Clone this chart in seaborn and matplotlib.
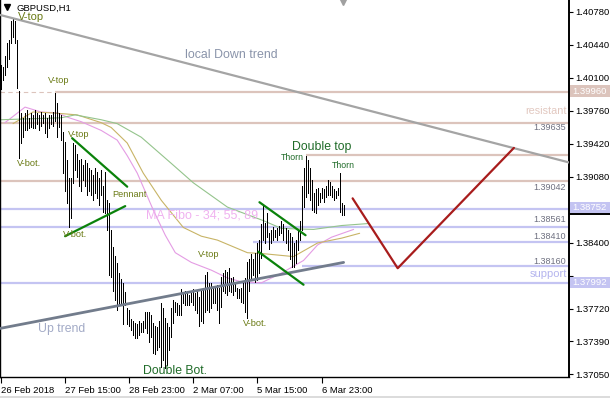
import numpy as np
import pandas as pd
import matplotlib
matplotlib.use("Agg")
import matplotlib.pyplot as plt
from matplotlib.patches import Rectangle
from matplotlib.lines import Line2D
import seaborn as sns

# ---------------- data (GBPUSD H1) ----------------
high = [1.4023, 1.4021, 1.4033, 1.4046, 1.4049, 1.4069, 1.4072, 1.4069, 1.4049, 1.3997,
        1.3974, 1.3969, 1.3974, 1.3977, 1.3969, 1.3974, 1.3972, 1.3977, 1.3974, 1.3972,
        1.3975, 1.3972, 1.3974, 1.3969, 1.3972, 1.3972, 1.3975, 1.3995, 1.3984, 1.3974,
        1.3972, 1.3954, 1.3944, 1.3925, 1.3907, 1.3907, 1.3943, 1.3941, 1.3932, 1.3925,
        1.3927, 1.3920, 1.3925, 1.3922, 1.3917, 1.3915, 1.3910, 1.3917, 1.3913, 1.3907,
        1.3915, 1.3899, 1.3913, 1.3884, 1.3881, 1.3853, 1.3836, 1.3827, 1.3819, 1.3809,
        1.3803, 1.3799, 1.3789, 1.3773, 1.3771, 1.3762, 1.3760, 1.3758, 1.3757, 1.3760,
        1.3758, 1.3760, 1.3769, 1.3769, 1.3769, 1.3766, 1.3758, 1.3755, 1.3753, 1.3760,
        1.3778, 1.3773, 1.3763, 1.3758, 1.3753, 1.3773, 1.3781, 1.3779, 1.3778, 1.3776,
        1.3793, 1.3789, 1.3791, 1.3791, 1.3786, 1.3791, 1.3793, 1.3788, 1.3791, 1.3784,
        1.3791, 1.3794, 1.3807, 1.3810, 1.3799, 1.3799, 1.3794, 1.3794, 1.3797, 1.3794,
        1.3805, 1.3809, 1.3812, 1.3810, 1.3814, 1.3804, 1.3805, 1.3799, 1.3794, 1.3793,
        1.3794, 1.3799, 1.3804, 1.3820, 1.3824, 1.3829, 1.3824, 1.3830, 1.3840, 1.3843,
        1.3860, 1.3879, 1.3861, 1.3871, 1.3850, 1.3853, 1.3856, 1.3853, 1.3855, 1.3858,
        1.3863, 1.3860, 1.3855, 1.3853, 1.3850, 1.3846, 1.3840, 1.3843, 1.3853, 1.3863,
        1.3899, 1.3917, 1.3930, 1.3925, 1.3917, 1.3905, 1.3892, 1.3896, 1.3897, 1.3892,
        1.3897, 1.3896, 1.3899, 1.3905, 1.3903, 1.3899, 1.3896, 1.3894, 1.3897, 1.3912,
        1.3881, 1.3879]
low = [1.3999, 1.4008, 1.4013, 1.4021, 1.4030, 1.4046, 1.4052, 1.4046, 1.4000, 1.3928,
       1.3943, 1.3949, 1.3956, 1.3956, 1.3958, 1.3959, 1.3958, 1.3958, 1.3963, 1.3956,
       1.3961, 1.3964, 1.3953, 1.3949, 1.3958, 1.3963, 1.3961, 1.3966, 1.3949, 1.3959,
       1.3946, 1.3912, 1.3894, 1.3881, 1.3856, 1.3866, 1.3902, 1.3915, 1.3908, 1.3899,
       1.3894, 1.3905, 1.3899, 1.3889, 1.3894, 1.3889, 1.3884, 1.3891, 1.3886, 1.3879,
       1.3889, 1.3872, 1.3871, 1.3853, 1.3807, 1.3805, 1.3791, 1.3781, 1.3771, 1.3776,
       1.3776, 1.3757, 1.3776, 1.3757, 1.3755, 1.3750, 1.3745, 1.3742, 1.3742, 1.3745,
       1.3748, 1.3748, 1.3752, 1.3747, 1.3738, 1.3743, 1.3727, 1.3726, 1.3730, 1.3733,
       1.3712, 1.3719, 1.3711, 1.3714, 1.3730, 1.3743, 1.3758, 1.3769, 1.3766, 1.3766,
       1.3766, 1.3778, 1.3776, 1.3776, 1.3776, 1.3779, 1.3776, 1.3771, 1.3768, 1.3755,
       1.3760, 1.3758, 1.3769, 1.3771, 1.3769, 1.3773, 1.3778, 1.3778, 1.3771, 1.3758,
       1.3774, 1.3791, 1.3788, 1.3786, 1.3791, 1.3789, 1.3786, 1.3791, 1.3783, 1.3783,
       1.3779, 1.3778, 1.3769, 1.3763, 1.3791, 1.3802, 1.3807, 1.3800, 1.3802, 1.3809,
       1.3825, 1.3843, 1.3840, 1.3846, 1.3834, 1.3840, 1.3843, 1.3846, 1.3843, 1.3848,
       1.3850, 1.3843, 1.3840, 1.3833, 1.3824, 1.3815, 1.3815, 1.3819, 1.3833, 1.3843,
       1.3853, 1.3877, 1.3887, 1.3891, 1.3884, 1.3874, 1.3872, 1.3871, 1.3879, 1.3882,
       1.3886, 1.3882, 1.3887, 1.3889, 1.3889, 1.3887, 1.3884, 1.3886, 1.3889, 1.3872,
       1.3869, 1.3869]

time_tick_idx = [0, 32, 64, 96, 128, 160]
time_tick_labels = ["26 Feb 2018", "27 Feb 15:00", "28 Feb 23:00",
                    "2 Mar 07:00", "5 Mar 15:00", "6 Mar 23:00"]
price_ticks = [1.40780, 1.40440, 1.40100, 1.39760, 1.39420, 1.39080,
               1.38740, 1.38400, 1.38060, 1.37720, 1.37390, 1.37050]
hidden_ticks = [1.38740, 1.38060]   # covered by the price boxes in the original

# moving averages (Fibo 34 / 55 / 89), sampled along the curves
ma34_idx = [2, 7, 12, 20, 28, 34, 40, 50, 58, 63, 68, 76, 82, 87, 95, 105, 113, 120,
            130, 140, 151, 158, 165, 176]
ma34_val = [1.3964, 1.3972, 1.3980, 1.3975, 1.3974, 1.3969, 1.3965, 1.3956, 1.3946,
            1.3930, 1.3912, 1.3874, 1.3848, 1.3830, 1.3820, 1.3812, 1.3804, 1.3800,
            1.3799, 1.3809, 1.3822, 1.3838, 1.3846, 1.3854]
ma55_idx = [6, 16, 26, 38, 50, 55, 63, 71, 80, 91, 100, 108, 123, 131, 146, 158, 170, 179]
ma55_val = [1.3963, 1.3975, 1.3974, 1.3972, 1.3964, 1.3959, 1.3943, 1.3912, 1.3884,
            1.3856, 1.3847, 1.3843, 1.3830, 1.3829, 1.3826, 1.3840, 1.3845, 1.3850]
ma89_idx = [0, 15, 30, 37, 50, 58, 70, 85, 96, 113, 131, 140, 156, 170, 183]
ma89_val = [1.3967, 1.3968, 1.3969, 1.3972, 1.3967, 1.3963, 1.3949, 1.3922, 1.3902,
            1.3877, 1.3863, 1.3855, 1.3854, 1.3858, 1.3860]

# horizontal levels
resist_levels = [1.39960, 1.39635, 1.39307, 1.39042]
resist_start = [27, -0.5, 152, -0.5]
support_levels = [1.38752, 1.38561, 1.38410, 1.38160, 1.37992]
support_start = [-0.5, -0.5, 126, 150, -0.5]

# trend lines / patterns (bar index, price)
down_idx, down_val = [-0.5, 283.5], [1.4075, 1.3923]
up_idx, up_val = [-0.5, 171], [1.3752, 1.3820]
pennant_upper_idx, pennant_upper_val = [35.5, 63], [1.3948, 1.3898]
pennant_lower_idx, pennant_lower_val = [32, 62], [1.3847, 1.3878]
flag_upper_idx, flag_upper_val = [129, 152], [1.3882, 1.3848]
flag_lower_idx, flag_lower_val = [128.5, 151], [1.3831, 1.3797]
forecast_idx, forecast_val = [175.5, 198, 256], [1.3886, 1.3814, 1.3938]

# ---------------- style ----------------
sns.set_theme(style="white")
plt.rcParams["font.family"] = ["Liberation Sans", "DejaVu Sans"]

W, H = 610, 399
fig = plt.figure(figsize=(W / 100, H / 100), dpi=100)
ax = fig.add_axes([0, 22 / H, 569 / W, 377 / H])
XMIN, XMAX = -0.5, 283.5
YMIN, YMAX = 1.370194, 1.409036
ax.set_xlim(XMIN, XMAX)
ax.set_ylim(YMIN, YMAX)
ax.set_facecolor("white")


def P(x, y):
    """pixel (from top-left of image) -> data coords, for text placement"""
    return ax.transData.inverted().transform((x, H - y))


PINK = "#dcc4bc"
BLUE = "#c4c4f2"
LW2 = 1.6

# levels
ax.plot([XMIN, resist_start[0]], [resist_levels[0]] * 2, color=PINK, lw=0.8,
        ls=(0, (4, 3)), zorder=1)
for lv, st in zip(resist_levels, resist_start):
    ax.plot([st, XMAX], [lv, lv], color=PINK, lw=LW2, zorder=1, solid_capstyle="butt")
for lv, st in zip(support_levels, support_start):
    ax.plot([st, XMAX], [lv, lv], color=BLUE, lw=LW2, zorder=1, solid_capstyle="butt")

# moving averages via seaborn
ma_df = pd.concat([
    pd.DataFrame({"idx": ma34_idx, "price": ma34_val, "ma": "MA34"}),
    pd.DataFrame({"idx": ma55_idx, "price": ma55_val, "ma": "MA55"}),
    pd.DataFrame({"idx": ma89_idx, "price": ma89_val, "ma": "MA89"}),
])
sns.lineplot(data=ma_df, x="idx", y="price", hue="ma", estimator=None,
             palette={"MA34": "#e49ce4", "MA55": "#c8b466", "MA89": "#94c48c"},
             linewidth=0.8, legend=False, ax=ax, zorder=2)

# price bars (1 px wide)
bar_idx = np.arange(len(high))
ax.vlines(bar_idx, low, high, colors="black", linewidth=0.72, zorder=3,
          antialiased=False)

# trend lines
ax.plot(down_idx, down_val, color="#a4a4a4", lw=LW2, zorder=4)
ax.plot(up_idx, up_val, color="#727c8c", lw=2.0, zorder=4)
for xi, yv in [(pennant_upper_idx, pennant_upper_val), (pennant_lower_idx, pennant_lower_val),
               (flag_upper_idx, flag_upper_val), (flag_lower_idx, flag_lower_val)]:
    ax.plot(xi, yv, color="#0a820a", lw=LW2, zorder=5)
ax.plot(forecast_idx, forecast_val, color="#a81c1c", lw=LW2, zorder=5)

# axes styling
ax.set_xlabel("")
ax.set_ylabel("")
for s in ["left", "right", "bottom"]:
    ax.spines[s].set_visible(True)
    ax.spines[s].set_color("black")
    ax.spines[s].set_linewidth(1.0)
ax.spines["top"].set_visible(False)
ax.spines["right"].set_linewidth(1.4)

ax.yaxis.tick_right()
ax.set_yticks(price_ticks)
ax.set_yticklabels(["" if v in hidden_ticks else f"{v:.5f}" for v in price_ticks])
ax.tick_params(axis="y", which="both", right=True, left=False, labelright=True,
               labelleft=False, direction="out", length=3, width=0.8, pad=1.5,
               labelsize=6.8, colors="black")
ax.set_xticks(time_tick_idx)
ax.set_xticklabels(time_tick_labels)
ax.tick_params(axis="x", direction="out", length=4, width=0.8, pad=2.5,
               labelsize=6.8, colors="black", bottom=True)
for lbl in ax.get_xticklabels():
    lbl.set_ha("left")

# ---------------- annotations ----------------
VCOL = "#6a7a14"
GCOL = "#1f6b28"
txt = [
    (18, 17, "V-top", 8.0, VCOL),
    (48, 81, "V-top", 6.6, VCOL),
    (17, 164, "V-bot.", 6.7, VCOL),
    (68, 135, "V-top", 6.6, VCOL),
    (112, 195, "Pennant", 6.6, VCOL),
    (63, 235, "V-bot.", 6.7, VCOL),
    (198, 255, "V-top", 6.6, VCOL),
    (243, 324, "V-bot.", 6.7, VCOL),
    (146, 216, "MA Fibo - 34; 55; 89", 9.0, "#f0b2f0"),
    (38, 329, "Up trend", 8.8, "#a2aac6"),
    (185, 55, "local Down trend", 8.9, "#8a94aa"),
    (143, 371, "Double Bot.", 8.8, GCOL),
    (292, 147, "Double top", 8.8, GCOL),
    (281, 158, "Thorn", 6.3, GCOL),
    (332, 166, "Thorn", 6.3, GCOL),
]
for x, y, s, fs, c in txt:
    ax.text(*P(x, y), s, fontsize=fs, color=c, ha="left", va="center", zorder=8)

ax.text(*P(567, 111), "resistant", fontsize=7.8, color="#e2c8c0", ha="right",
        va="center", zorder=8)
ax.text(*P(567, 274), "support", fontsize=8.0, color="#b4b4ee", ha="right",
        va="center", zorder=8)
for y, s in [(128, "1.39635"), (188, "1.39042"), (220, "1.38561"),
             (237, "1.38410"), (262, "1.38160")]:
    ax.text(*P(566, y), s, fontsize=6.5, color="#6e7080", ha="right", va="center",
            zorder=8)

# symbol title
ax.text(*P(17, 8), "GBPUSD,H1", fontsize=6.8, color="black", ha="left", va="center",
        zorder=8)
ax.plot(*P(7, 7), marker="v", color="black", markersize=4, clip_on=False, zorder=8)
ax.plot(*P(343, 2), marker="v", color="#a0a0a0", markersize=5, clip_on=False, zorder=8)

# price boxes on the right scale
for (y0, y1, s, c) in [(85, 97, "1.39960", PINK), (202, 213, "1.38752", BLUE),
                       (277, 288, "1.37992", BLUE)]:
    fig.add_artist(Rectangle((570 / W, 1 - y1 / H), 40 / W, (y1 - y0) / H,
                             transform=fig.transFigure, facecolor=c, edgecolor="none",
                             zorder=10))
    fig.text(572 / W, 1 - (y0 + y1) / 2 / H, s, fontsize=6.8, color="white",
             ha="left", va="center", zorder=11)
fig.add_artist(Line2D([570 / W, 1], [1 - 214 / H] * 2, transform=fig.transFigure,
                      color="black", lw=1.4, zorder=11))
fig.add_artist(Line2D([0, 1], [1 - 397 / H] * 2, transform=fig.transFigure,
                      color="#dcdcdc", lw=1.4, zorder=11))

fig.savefig("out.png", dpi=100)
